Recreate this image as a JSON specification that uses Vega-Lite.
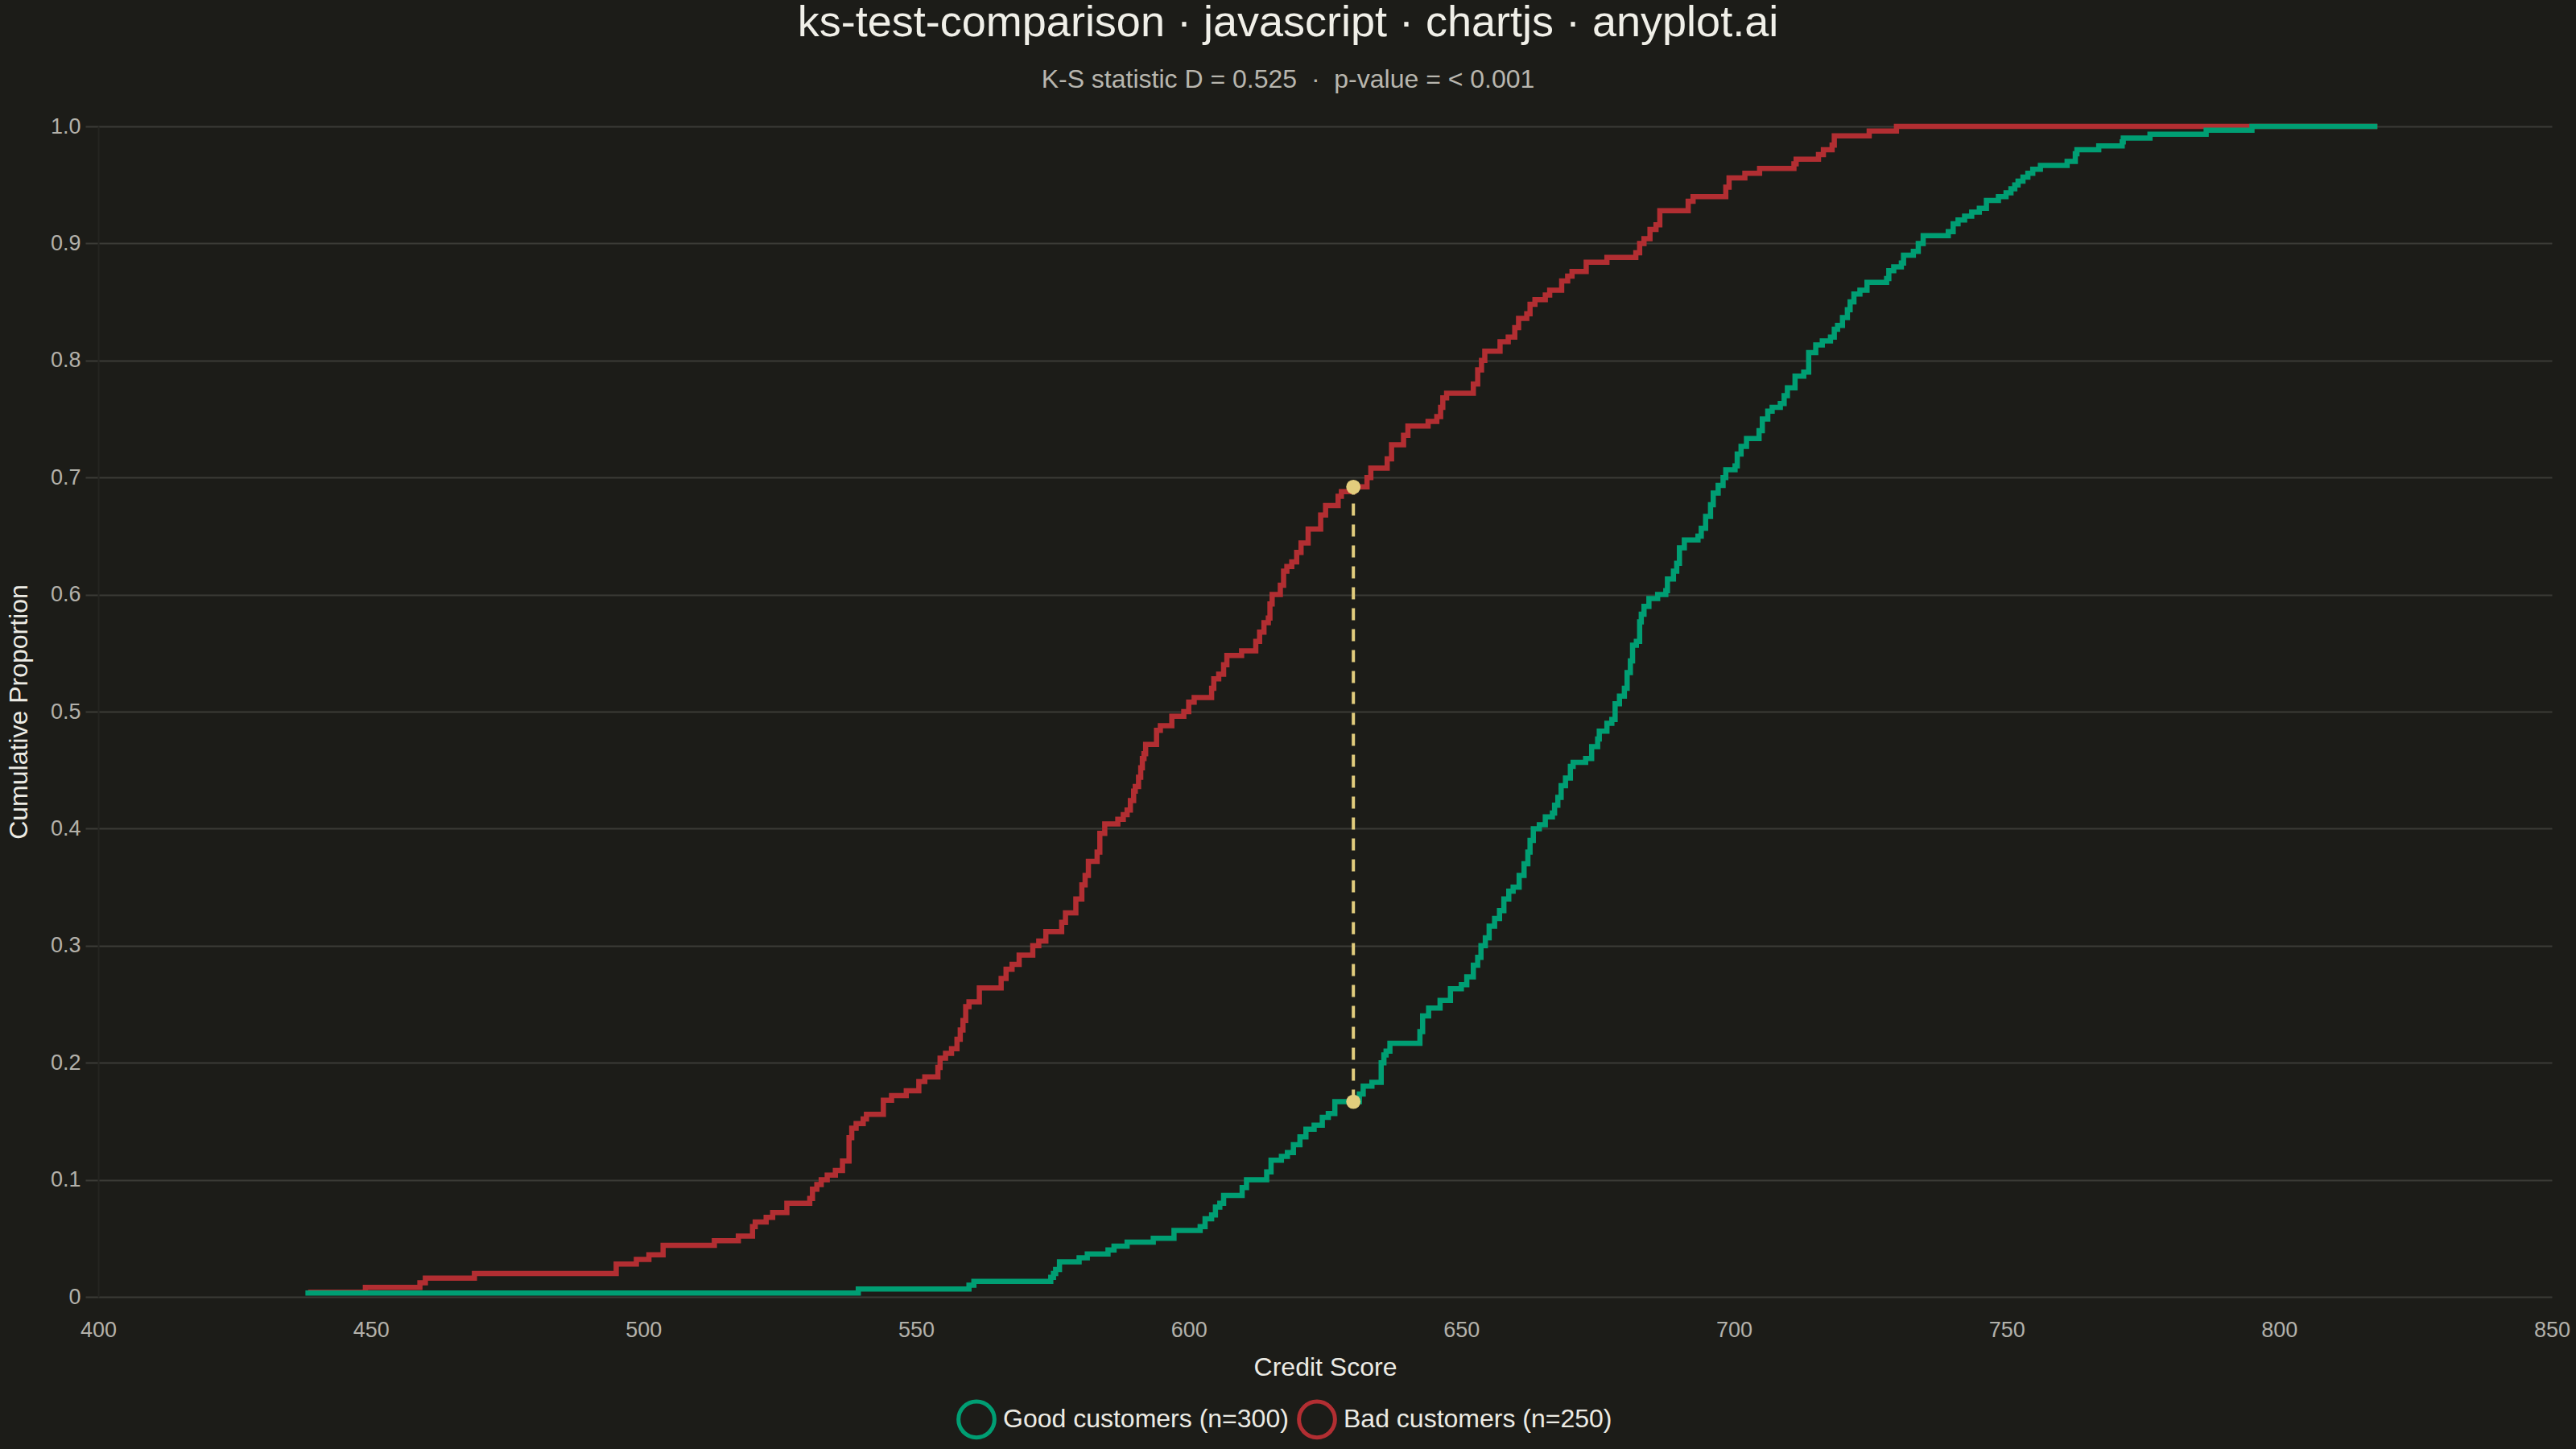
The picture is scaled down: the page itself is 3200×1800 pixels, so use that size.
{
  "$schema": "https://vega.github.io/schema/vega-lite/v6.json",
  "autosize": {"type": "none"},
  "width": 3048,
  "height": 1454,
  "padding": {"left": 122, "top": 157, "right": 30, "bottom": 189},
  "background": "#1c1c18",
  "title": {
    "text": "ks-test-comparison · javascript · chartjs · anyplot.ai",
    "subtitle": "K-S statistic D = 0.525 \u00a0·\u00a0 p-value = < 0.001",
    "anchor": "middle",
    "frame": "group",
    "dx": -46,
    "offset": 28,
    "font": "Liberation Sans",
    "fontSize": 54,
    "fontWeight": "normal",
    "color": "#f0efe8",
    "subtitleFont": "Liberation Sans",
    "subtitleFontSize": 32,
    "subtitleColor": "#b8b6ae",
    "subtitlePadding": 28
  },
  "config": {
    "view": {"stroke": null},
    "font": "Liberation Sans"
  },
  "datasets": {
    "bad": [
      {"score": 438.5, "cdf": 0.004}, {"score": 449, "cdf": 0.008}, {"score": 459, "cdf": 0.012}, {"score": 460, "cdf": 0.016},
      {"score": 469, "cdf": 0.020}, {"score": 495, "cdf": 0.028}, {"score": 498.7, "cdf": 0.032}, {"score": 501, "cdf": 0.036},
      {"score": 503.6, "cdf": 0.044}, {"score": 513, "cdf": 0.048}, {"score": 517.4, "cdf": 0.052}, {"score": 520, "cdf": 0.060},
      {"score": 520.5, "cdf": 0.064}, {"score": 522.5, "cdf": 0.068}, {"score": 523.7, "cdf": 0.072}, {"score": 526.3, "cdf": 0.080},
      {"score": 530.5, "cdf": 0.084}, {"score": 531, "cdf": 0.092}, {"score": 531.8, "cdf": 0.096}, {"score": 532.6, "cdf": 0.100},
      {"score": 533.7, "cdf": 0.104}, {"score": 535.2, "cdf": 0.108}, {"score": 536.5, "cdf": 0.116}, {"score": 537.7, "cdf": 0.136},
      {"score": 538.2, "cdf": 0.144}, {"score": 539, "cdf": 0.148}, {"score": 540.3, "cdf": 0.152}, {"score": 540.9, "cdf": 0.156},
      {"score": 544, "cdf": 0.168}, {"score": 545.5, "cdf": 0.172}, {"score": 548.2, "cdf": 0.176}, {"score": 550.5, "cdf": 0.184},
      {"score": 551.6, "cdf": 0.188}, {"score": 554, "cdf": 0.196}, {"score": 554.4, "cdf": 0.204}, {"score": 555.4, "cdf": 0.208},
      {"score": 556.5, "cdf": 0.212}, {"score": 557.5, "cdf": 0.220}, {"score": 558.1, "cdf": 0.228}, {"score": 558.6, "cdf": 0.236},
      {"score": 559.1, "cdf": 0.248}, {"score": 559.7, "cdf": 0.252}, {"score": 561.6, "cdf": 0.264}, {"score": 565.6, "cdf": 0.272},
      {"score": 566.5, "cdf": 0.280}, {"score": 567.6, "cdf": 0.284}, {"score": 568.9, "cdf": 0.292}, {"score": 571.4, "cdf": 0.300},
      {"score": 572.5, "cdf": 0.304}, {"score": 573.8, "cdf": 0.312}, {"score": 576.7, "cdf": 0.320}, {"score": 577.4, "cdf": 0.328},
      {"score": 579.3, "cdf": 0.340}, {"score": 580.4, "cdf": 0.352}, {"score": 581, "cdf": 0.360}, {"score": 581.6, "cdf": 0.372},
      {"score": 583.2, "cdf": 0.380}, {"score": 583.7, "cdf": 0.396}, {"score": 584.6, "cdf": 0.404}, {"score": 587, "cdf": 0.408},
      {"score": 588, "cdf": 0.412}, {"score": 588.7, "cdf": 0.416}, {"score": 589.3, "cdf": 0.424}, {"score": 589.9, "cdf": 0.432},
      {"score": 590.2, "cdf": 0.436}, {"score": 590.8, "cdf": 0.444}, {"score": 591.2, "cdf": 0.452}, {"score": 591.5, "cdf": 0.460},
      {"score": 591.8, "cdf": 0.464}, {"score": 592.1, "cdf": 0.472}, {"score": 594.1, "cdf": 0.484}, {"score": 594.8, "cdf": 0.488},
      {"score": 596.9, "cdf": 0.496}, {"score": 599.1, "cdf": 0.500}, {"score": 600, "cdf": 0.508}, {"score": 601, "cdf": 0.512},
      {"score": 604.2, "cdf": 0.520}, {"score": 604.6, "cdf": 0.528}, {"score": 605.5, "cdf": 0.532}, {"score": 606.4, "cdf": 0.540},
      {"score": 607, "cdf": 0.548}, {"score": 609.7, "cdf": 0.552}, {"score": 612.3, "cdf": 0.560}, {"score": 613, "cdf": 0.568},
      {"score": 613.8, "cdf": 0.576}, {"score": 614.6, "cdf": 0.580}, {"score": 614.9, "cdf": 0.592}, {"score": 615.3, "cdf": 0.600},
      {"score": 616.8, "cdf": 0.608}, {"score": 617.4, "cdf": 0.620}, {"score": 618, "cdf": 0.624}, {"score": 618.9, "cdf": 0.628},
      {"score": 619.8, "cdf": 0.636}, {"score": 620.6, "cdf": 0.644}, {"score": 621.9, "cdf": 0.656}, {"score": 624.2, "cdf": 0.668},
      {"score": 625.1, "cdf": 0.676}, {"score": 627.4, "cdf": 0.684}, {"score": 628, "cdf": 0.688}, {"score": 630.2, "cdf": 0.692},
      {"score": 632.7, "cdf": 0.700}, {"score": 633.4, "cdf": 0.708}, {"score": 636.4, "cdf": 0.716}, {"score": 637.2, "cdf": 0.728},
      {"score": 639.4, "cdf": 0.736}, {"score": 640.2, "cdf": 0.744}, {"score": 643.9, "cdf": 0.748}, {"score": 645.5, "cdf": 0.752},
      {"score": 646.2, "cdf": 0.760}, {"score": 646.6, "cdf": 0.768}, {"score": 647.3, "cdf": 0.772}, {"score": 652.2, "cdf": 0.780},
      {"score": 653, "cdf": 0.792}, {"score": 653.7, "cdf": 0.800}, {"score": 654.3, "cdf": 0.808}, {"score": 657.1, "cdf": 0.816},
      {"score": 658.6, "cdf": 0.820}, {"score": 659.8, "cdf": 0.828}, {"score": 660.5, "cdf": 0.836}, {"score": 662, "cdf": 0.840},
      {"score": 662.6, "cdf": 0.848}, {"score": 663.5, "cdf": 0.852}, {"score": 665.4, "cdf": 0.856}, {"score": 666.2, "cdf": 0.860},
      {"score": 668.4, "cdf": 0.868}, {"score": 669.5, "cdf": 0.872}, {"score": 670.3, "cdf": 0.876}, {"score": 672.9, "cdf": 0.884},
      {"score": 676.7, "cdf": 0.888}, {"score": 682, "cdf": 0.892}, {"score": 682.7, "cdf": 0.900}, {"score": 683.5, "cdf": 0.904},
      {"score": 684.6, "cdf": 0.912}, {"score": 685.7, "cdf": 0.916}, {"score": 686.4, "cdf": 0.928}, {"score": 691.6, "cdf": 0.936},
      {"score": 692.5, "cdf": 0.940}, {"score": 698.5, "cdf": 0.948}, {"score": 699.1, "cdf": 0.956}, {"score": 702, "cdf": 0.960},
      {"score": 704.7, "cdf": 0.964}, {"score": 711, "cdf": 0.968}, {"score": 711.4, "cdf": 0.972}, {"score": 715.5, "cdf": 0.976},
      {"score": 716.4, "cdf": 0.980}, {"score": 718, "cdf": 0.984}, {"score": 718.4, "cdf": 0.992}, {"score": 724.8, "cdf": 0.996},
      {"score": 729.8, "cdf": 1.0}, {"score": 818, "cdf": 1.0}
    ],
    "good": [
      {"score": 438, "cdf": 0.0033}, {"score": 539.4, "cdf": 0.0067}, {"score": 559.7, "cdf": 0.0100}, {"score": 560.6, "cdf": 0.0133},
      {"score": 574.7, "cdf": 0.0167}, {"score": 575.2, "cdf": 0.0200}, {"score": 575.6, "cdf": 0.0233}, {"score": 576.3, "cdf": 0.0300},
      {"score": 579.9, "cdf": 0.0333}, {"score": 581.4, "cdf": 0.0367}, {"score": 585.2, "cdf": 0.0400}, {"score": 586.3, "cdf": 0.0433},
      {"score": 588.7, "cdf": 0.0467}, {"score": 593.5, "cdf": 0.0500}, {"score": 597.3, "cdf": 0.0567}, {"score": 602.1, "cdf": 0.0600},
      {"score": 603, "cdf": 0.0667}, {"score": 604.2, "cdf": 0.0700}, {"score": 604.9, "cdf": 0.0767}, {"score": 605.7, "cdf": 0.0800},
      {"score": 606.4, "cdf": 0.0867}, {"score": 609.8, "cdf": 0.0933}, {"score": 610.6, "cdf": 0.1000}, {"score": 614.3, "cdf": 0.1067},
      {"score": 615.1, "cdf": 0.1167}, {"score": 617, "cdf": 0.1200}, {"score": 618.1, "cdf": 0.1233}, {"score": 619.2, "cdf": 0.1300},
      {"score": 620.4, "cdf": 0.1367}, {"score": 621.5, "cdf": 0.1433}, {"score": 623, "cdf": 0.1467}, {"score": 624.5, "cdf": 0.1533},
      {"score": 625.6, "cdf": 0.1567}, {"score": 626.8, "cdf": 0.1667}, {"score": 631.3, "cdf": 0.1733}, {"score": 632, "cdf": 0.1800},
      {"score": 633.6, "cdf": 0.1833}, {"score": 635.3, "cdf": 0.2000}, {"score": 635.8, "cdf": 0.2067}, {"score": 636.2, "cdf": 0.2100},
      {"score": 636.9, "cdf": 0.2167}, {"score": 642.4, "cdf": 0.2267}, {"score": 642.9, "cdf": 0.2400}, {"score": 644, "cdf": 0.2467},
      {"score": 646.1, "cdf": 0.2533}, {"score": 648, "cdf": 0.2633}, {"score": 650, "cdf": 0.2667}, {"score": 651, "cdf": 0.2733},
      {"score": 652.2, "cdf": 0.2833}, {"score": 653, "cdf": 0.2900}, {"score": 653.6, "cdf": 0.3000}, {"score": 654.4, "cdf": 0.3067},
      {"score": 655.1, "cdf": 0.3167}, {"score": 656.1, "cdf": 0.3233}, {"score": 657, "cdf": 0.3300}, {"score": 657.8, "cdf": 0.3400},
      {"score": 658.7, "cdf": 0.3467}, {"score": 659.5, "cdf": 0.3500}, {"score": 660.6, "cdf": 0.3600}, {"score": 661.5, "cdf": 0.3700},
      {"score": 662.2, "cdf": 0.3800}, {"score": 662.6, "cdf": 0.3900}, {"score": 663.2, "cdf": 0.4000}, {"score": 664.3, "cdf": 0.4033},
      {"score": 665.4, "cdf": 0.4100}, {"score": 666.7, "cdf": 0.4133}, {"score": 667.1, "cdf": 0.4200}, {"score": 667.7, "cdf": 0.4267},
      {"score": 668.3, "cdf": 0.4367}, {"score": 669.1, "cdf": 0.4433}, {"score": 670, "cdf": 0.4533}, {"score": 670.5, "cdf": 0.4567},
      {"score": 672.8, "cdf": 0.4600}, {"score": 673.9, "cdf": 0.4700}, {"score": 675, "cdf": 0.4767}, {"score": 675.3, "cdf": 0.4833},
      {"score": 676.7, "cdf": 0.4900}, {"score": 677.6, "cdf": 0.4933}, {"score": 678.2, "cdf": 0.5067}, {"score": 679, "cdf": 0.5133},
      {"score": 679.9, "cdf": 0.5200}, {"score": 680.4, "cdf": 0.5333}, {"score": 681, "cdf": 0.5433}, {"score": 681.4, "cdf": 0.5567},
      {"score": 682.1, "cdf": 0.5600}, {"score": 682.7, "cdf": 0.5767}, {"score": 683, "cdf": 0.5833}, {"score": 683.5, "cdf": 0.5900},
      {"score": 684.4, "cdf": 0.5967}, {"score": 686, "cdf": 0.6000}, {"score": 687.5, "cdf": 0.6033}, {"score": 687.8, "cdf": 0.6133},
      {"score": 688.9, "cdf": 0.6200}, {"score": 689.5, "cdf": 0.6267}, {"score": 690, "cdf": 0.6400}, {"score": 690.9, "cdf": 0.6467},
      {"score": 693.4, "cdf": 0.6500}, {"score": 694, "cdf": 0.6567}, {"score": 694.8, "cdf": 0.6667}, {"score": 695.7, "cdf": 0.6767},
      {"score": 696.2, "cdf": 0.6867}, {"score": 697.1, "cdf": 0.6933}, {"score": 698, "cdf": 0.7000}, {"score": 698.5, "cdf": 0.7067},
      {"score": 700.2, "cdf": 0.7100}, {"score": 700.6, "cdf": 0.7200}, {"score": 701.3, "cdf": 0.7267}, {"score": 702.3, "cdf": 0.7333},
      {"score": 704.6, "cdf": 0.7400}, {"score": 705.2, "cdf": 0.7500}, {"score": 706.2, "cdf": 0.7567}, {"score": 707, "cdf": 0.7600},
      {"score": 708.5, "cdf": 0.7633}, {"score": 709.2, "cdf": 0.7700}, {"score": 709.8, "cdf": 0.7767}, {"score": 711.2, "cdf": 0.7867},
      {"score": 712.8, "cdf": 0.7900}, {"score": 713.7, "cdf": 0.8067}, {"score": 715, "cdf": 0.8133}, {"score": 716.2, "cdf": 0.8167},
      {"score": 717.7, "cdf": 0.8200}, {"score": 718.4, "cdf": 0.8267}, {"score": 719, "cdf": 0.8300}, {"score": 719.9, "cdf": 0.8367},
      {"score": 720.8, "cdf": 0.8433}, {"score": 721.3, "cdf": 0.8500}, {"score": 722, "cdf": 0.8567}, {"score": 723.1, "cdf": 0.8600},
      {"score": 724.4, "cdf": 0.8667}, {"score": 728, "cdf": 0.8700}, {"score": 728.4, "cdf": 0.8767}, {"score": 729.3, "cdf": 0.8800},
      {"score": 730.7, "cdf": 0.8833}, {"score": 731.1, "cdf": 0.8900}, {"score": 732.9, "cdf": 0.8933}, {"score": 733.8, "cdf": 0.9000},
      {"score": 734.7, "cdf": 0.9067}, {"score": 739.3, "cdf": 0.9100}, {"score": 740.2, "cdf": 0.9167}, {"score": 741.1, "cdf": 0.9200},
      {"score": 742.3, "cdf": 0.9233}, {"score": 743.6, "cdf": 0.9267}, {"score": 745, "cdf": 0.9300}, {"score": 746.3, "cdf": 0.9367},
      {"score": 748.5, "cdf": 0.9400}, {"score": 749.9, "cdf": 0.9433}, {"score": 750.8, "cdf": 0.9467}, {"score": 751.5, "cdf": 0.9500},
      {"score": 752.1, "cdf": 0.9533}, {"score": 753, "cdf": 0.9567}, {"score": 753.9, "cdf": 0.9600}, {"score": 754.8, "cdf": 0.9633},
      {"score": 756.2, "cdf": 0.9667}, {"score": 761.1, "cdf": 0.9700}, {"score": 762.6, "cdf": 0.9767}, {"score": 762.9, "cdf": 0.9800},
      {"score": 766.9, "cdf": 0.9833}, {"score": 771.2, "cdf": 0.9867}, {"score": 771.4, "cdf": 0.9900}, {"score": 776.3, "cdf": 0.9933},
      {"score": 786.6, "cdf": 0.9967}, {"score": 795, "cdf": 1.0}, {"score": 818, "cdf": 1.0}
    ],
    "ks": [
      {"score": 630.2, "lo": 0.1667, "hi": 0.692}
    ]
  },
  "layer": [
    {
      "data": {"name": "bad"},
      "mark": {"type": "line", "interpolate": "step-after", "strokeWidth": 6.5},
      "encoding": {
        "x": {
          "field": "score", "type": "quantitative",
          "scale": {"domain": [400, 850], "nice": false, "zero": false},
          "axis": {
            "title": "Credit Score",
            "values": [400, 450, 500, 550, 600, 650, 700, 750, 800, 850],
            "grid": false, "domain": false, "ticks": false, "labelFlush": false,
            "labelPadding": 28, "labelFontSize": 27, "labelColor": "#b3b1aa",
            "labelFont": "Liberation Sans",
            "titleFont": "Liberation Sans", "titleFontSize": 32, "titleFontWeight": "normal",
            "titleColor": "#ecebe4", "titlePadding": 18
          }
        },
        "y": {
          "field": "cdf", "type": "quantitative",
          "scale": {"domain": [0, 1], "nice": false},
          "axis": {
            "title": "Cumulative Proportion",
            "values": [0, 0.1, 0.2, 0.3, 0.4, 0.5, 0.6, 0.7, 0.8, 0.9, 1],
            "labelExpr": "datum.value === 0 ? '0' : format(datum.value, '.1f')",
            "grid": true, "gridColor": "#3b3b36", "gridWidth": 2,
            "ticks": true, "tickColor": "#3b3b36", "tickSize": 16, "tickWidth": 2,
            "domain": true, "domainColor": "#252521", "domainWidth": 2, "labelFlush": false,
            "labelPadding": 6, "labelFontSize": 27, "labelColor": "#b3b1aa",
            "labelFont": "Liberation Sans",
            "titleFont": "Liberation Sans", "titleFontSize": 32, "titleFontWeight": "normal",
            "titleColor": "#ecebe4", "titlePadding": 22
          }
        },
        "color": {
          "datum": "Bad customers (n=250)",
          "type": "nominal",
          "scale": {
            "domain": ["Good customers (n=300)", "Bad customers (n=250)"],
            "range": ["#009e73", "#b22e32"]
          },
          "legend": {
            "title": null,
            "orient": "none",
            "direction": "horizontal",
            "legendX": 1066,
            "legendY": 1581,
            "symbolType": "circle",
            "symbolSize": 2000,
            "symbolStrokeWidth": 5,
            "symbolFillColor": "transparent",
            "labelFont": "Liberation Sans",
            "labelFontSize": 32,
            "labelColor": "#ecebe4",
            "labelLimit": 0,
            "labelOffset": 8,
            "columnPadding": 2,
            "padding": 0
          }
        }
      }
    },
    {
      "data": {"name": "good"},
      "mark": {"type": "line", "interpolate": "step-after", "strokeWidth": 6.5},
      "encoding": {
        "x": {"field": "score", "type": "quantitative"},
        "y": {"field": "cdf", "type": "quantitative"},
        "color": {"datum": "Good customers (n=300)", "type": "nominal"}
      }
    },
    {
      "data": {"name": "ks"},
      "mark": {"type": "rule", "color": "#e2cd7d", "strokeWidth": 4, "strokeDash": [15, 11]},
      "encoding": {
        "x": {"field": "score", "type": "quantitative"},
        "y": {"field": "lo", "type": "quantitative"},
        "y2": {"field": "hi"}
      }
    },
    {
      "data": {"name": "ks"},
      "transform": [{"fold": ["lo", "hi"], "as": ["end", "cdf"]}],
      "mark": {"type": "point", "filled": true, "size": 320, "color": "#e2cd7d", "opacity": 1},
      "encoding": {
        "x": {"field": "score", "type": "quantitative"},
        "y": {"field": "cdf", "type": "quantitative"}
      }
    }
  ]
}
